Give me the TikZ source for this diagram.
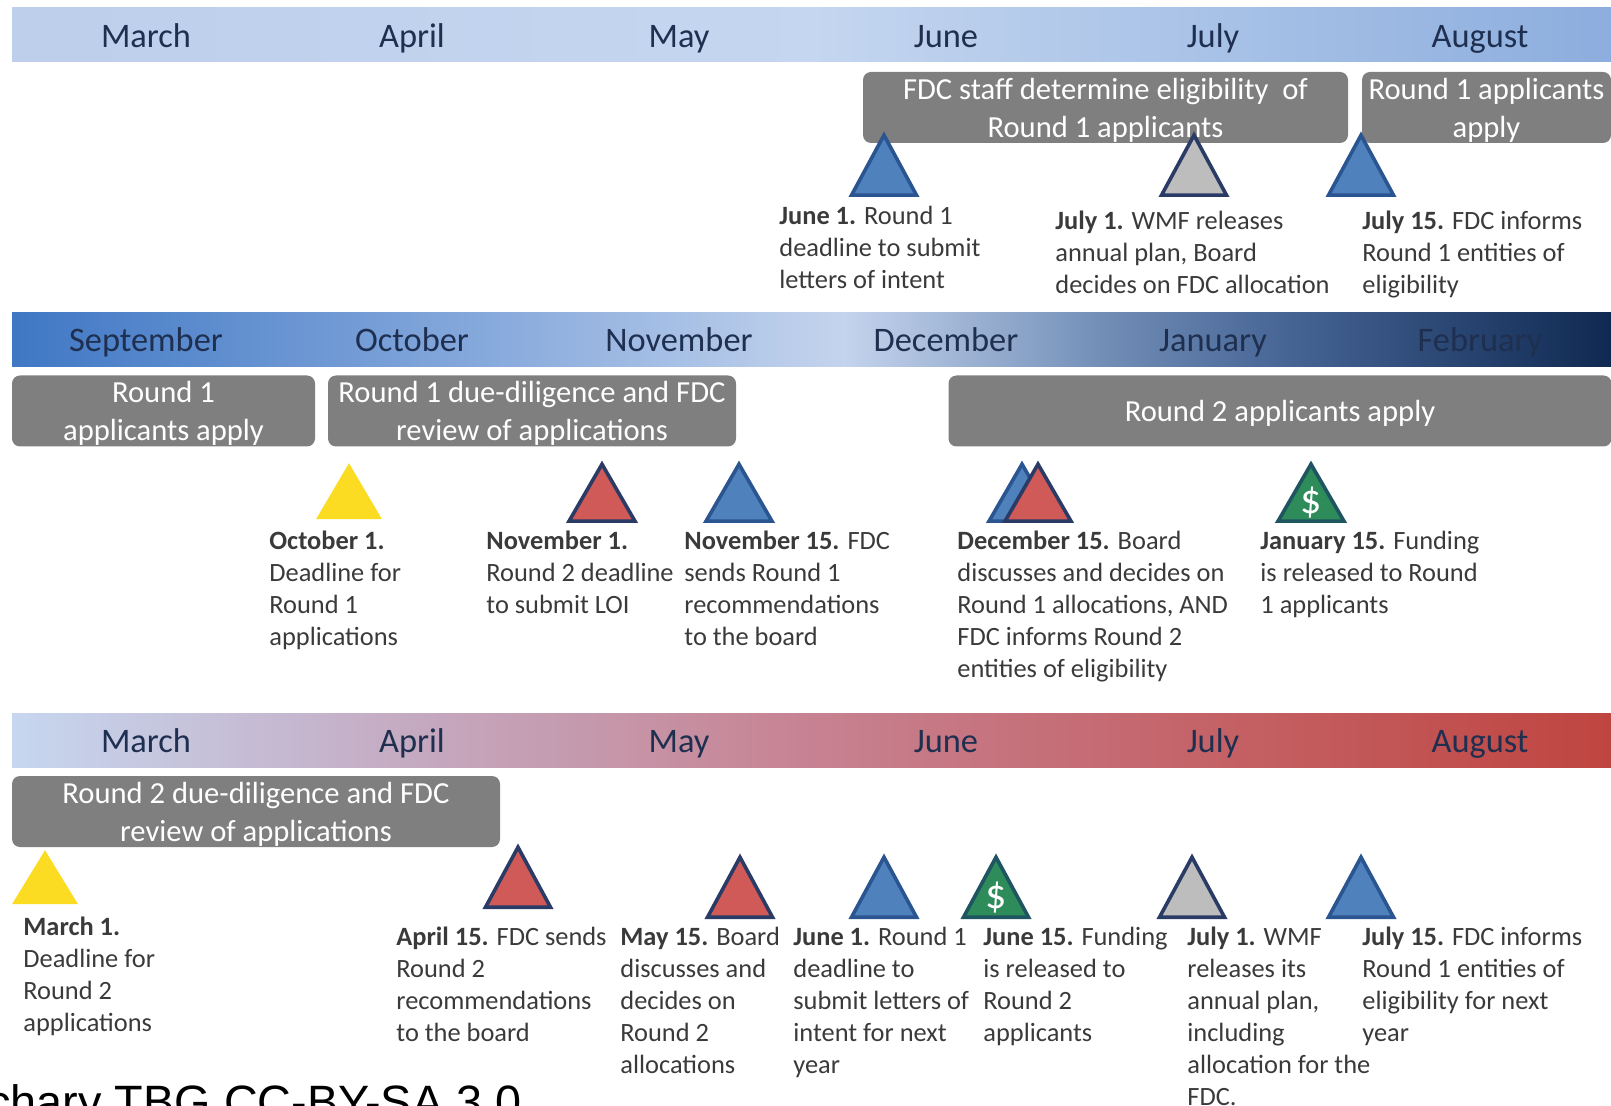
\documentclass[tikz,border=0pt]{standalone}
\usepackage{fontspec}
\setmainfont{Carlito}
\newfontfamily\creditfont{Liberation Sans}
\usetikzlibrary{shapes.geometric}
\definecolor{boxgray}{HTML}{7F7F7F}
\definecolor{monthink}{HTML}{1F2F50}
\definecolor{bodyink}{HTML}{3A3A3A}
\definecolor{triblue}{HTML}{4F81BD}
\definecolor{trired}{HTML}{CF5A58}
\definecolor{trigray}{HTML}{BDBDBD}
\definecolor{trigreen}{HTML}{2E8B5A}
\definecolor{triyellow}{HTML}{FBDC22}
\definecolor{edgeblue}{HTML}{2B5590}
\definecolor{edgenavy}{HTML}{2A3B66}
\definecolor{edgegreen}{HTML}{1F5560}
\pgfdeclarehorizontalshading{bandone}{100bp}{rgb(0bp)=(.74,.81,.92); rgb(25bp)=(.74,.81,.92); rgb(50bp)=(.77,.84,.94); rgb(75bp)=(.55,.68,.87); rgb(100bp)=(.55,.68,.87)}
\pgfdeclarehorizontalshading{bandtwo}{100bp}{rgb(0bp)=(.25,.47,.77); rgb(25bp)=(.25,.47,.77); rgb(41bp)=(.55,.68,.87); rgb(51bp)=(.77,.83,.93); rgb(59bp)=(.45,.56,.72); rgb(65bp)=(.27,.39,.58); rgb(75bp)=(.06,.16,.32); rgb(100bp)=(.06,.16,.32)}
\pgfdeclarehorizontalshading{bandthree}{100bp}{rgb(0bp)=(.78,.84,.94); rgb(25bp)=(.78,.84,.94); rgb(38bp)=(.77,.66,.75); rgb(50bp)=(.78,.51,.57); rgb(62bp)=(.77,.39,.41); rgb(75bp)=(.75,.27,.25); rgb(100bp)=(.75,.27,.25)}
\newcommand{\dollarmark}{\raisebox{-5.5pt}[0pt][0pt]{\makebox[0pt]{\$}}}
\tikzset{
  band/.style= {minimum width=799.5pt, minimum height=27pt, inner sep=0},
  month/.style= {anchor=base, text=monthink, inner sep=0, font=\fontsize{17.2}{20}\selectfont},
  box/.style= {fill=boxgray, rounded corners=4pt, minimum height=35.5pt, inner sep=0,
    text=white, align=center, font=\fontsize{15.3}{19}\selectfont,
    execute at begin node={\leavevmode\rule{0pt}{#1}}},
  box/.default=32pt,
  tri/.style= {isosceles triangle, isosceles triangle stretches, shape border rotate=90,
    inner sep=0, anchor=lower side, line width=1.8pt, line join=miter},
  bluetri/.style= {tri, fill=triblue, draw=edgeblue},
  redtri/.style= {tri, fill=trired, draw=edgenavy},
  graytri/.style= {tri, fill=trigray, draw=edgenavy},
  greentri/.style= {tri, fill=trigreen, draw=edgegreen, text=white, font=\fontsize{21}{21}\selectfont},
  yellowtri/.style= {tri, fill=triyellow},
  big/.style= {minimum width=32.5pt, minimum height=30pt},
  low/.style= {minimum width=33pt, minimum height=28.5pt},
  note/.style= {anchor=north west, inner sep=0, align=left, text=bodyink,
    font=\fontsize{13.2}{16}\selectfont},
}

\begin{document}
\begin{tikzpicture}[x=0.5pt, y=-0.5pt]
  \useasboundingbox (0,0) rectangle (1611,1106);

  % first half year
  \node [band, shading=bandone] (bandone) at (811.5,35) {};
  \node [month] (marone) at (146,48) {March};
  \node [month] (aprone) at (412,48) {April};
  \node [month] (mayone) at (679,48) {May};
  \node [month] (junone) at (946,48) {June};
  \node [month] (julone) at (1213,48) {July};
  \node [month] (augone) at (1480,48) {August};
  \node [box, minimum width=242.5pt] (staff) at (1105.5,107.5) {FDC staff determine eligibility~ of\\Round 1 applicants};
  \node [box, minimum width=124.5pt] (applyone) at (1486.5,107.5) {Round 1 applicants\\apply};
  \node [bluetri, big] (trijune) at (884,197) {};
  \node [graytri, big] (triplan) at (1194,197) {};
  \node [bluetri, big] (triinform) at (1361,197) {};
  \node [note] (noteone) at (779,205.5) {\textbf{June 1.} Round 1\\deadline to submit\\letters of intent};
  \node [note] (notetwo) at (1055,210.5) {\textbf{July 1.} WMF releases\\annual plan, Board\\decides on FDC allocation};
  \node [note] (notethree) at (1362,210.5) {\textbf{July 15.} FDC informs\\Round 1 entities of\\eligibility};

  % second half year
  \node [band, shading=bandtwo] (bandtwo) at (811.5,339.5) {};
  \node [month] (sep) at (146,352) {September};
  \node [month] (oct) at (412,352) {October};
  \node [month] (nov) at (679,352) {November};
  \node [month] (dec) at (946,352) {December};
  \node [month] (jan) at (1213,352) {January};
  \node [month] (feb) at (1480,352) {February};
  \node [box, minimum width=151.5pt] (applyround) at (163.5,411) {Round 1\\applicants apply};
  \node [box, minimum width=204pt] (diligone) at (532,411) {Round 1 due-diligence and FDC\\review of applications};
  \node [box=13pt, minimum width=331.5pt] (applytwo) at (1280,411) {Round 2 applicants apply};
  \node [yellowtri, minimum width=33pt, minimum height=28pt] (trioct) at (349,521) {};
  \node [redtri, low] (trinov) at (602,523) {};
  \node [bluetri, low] (trirec) at (739,523) {};
  \node [bluetri, low] (tridecb) at (1022,523) {};
  \node [redtri, low] (tridecr) at (1038,523) {};
  \node [greentri, low] (trijan) at (1311,523) {\dollarmark};
  \node [note] (noteoct) at (269,530.5) {\textbf{October 1.}\\Deadline for\\Round 1\\applications};
  \node [note] (notenov) at (486,530.5) {\textbf{November 1.}\\Round 2 deadline\\to submit LOI};
  \node [note] (noterec) at (684,530.5) {\textbf{November 15.} FDC\\sends Round 1\\recommendations\\to the board};
  \node [note] (notedec) at (957,530.5) {\textbf{December 15.} Board\\discusses and decides on\\Round 1 allocations, AND\\FDC informs Round 2\\entities of eligibility};
  \node [note] (notejan) at (1260,530.5) {\textbf{January 15.} Funding\\is released to Round\\1 applicants};

  % third half year
  \node [band, shading=bandthree] (bandthree) at (811.5,740) {};
  \node [month] (marthree) at (146,752) {March};
  \node [month] (aprthree) at (412,752) {April};
  \node [month] (maythree) at (679,752) {May};
  \node [month] (junthree) at (946,752) {June};
  \node [month] (julthree) at (1213,752) {July};
  \node [month] (augthree) at (1480,752) {August};
  \node [box, minimum width=244pt] (diligtwo) at (256,811.5) {Round 2 due-diligence and FDC\\review of applications};
  \node [yellowtri, minimum width=33pt, minimum height=27pt] (trimar) at (45,906) {};
  \node [redtri, big] (triapr) at (518,909) {};
  \node [redtri, big] (trimay) at (740,919) {};
  \node [bluetri, big] (trilet) at (884,919) {};
  \node [greentri, big] (trifund) at (996,919) {\dollarmark};
  \node [graytri, big] (trirel) at (1192,919) {};
  \node [bluetri, big] (trinext) at (1361,919) {};
  \node [note] (notemar) at (23,916.5) {\textbf{March 1.}\\Deadline for\\Round 2\\applications};
  \node [note] (noteapr) at (396,926.5) {\textbf{April 15.} FDC sends\\Round 2\\recommendations\\to the board};
  \node [note] (notemay) at (620,926.5) {\textbf{May 15.} Board\\discusses and\\decides on\\Round 2\\allocations};
  \node [note] (notelet) at (793,926.5) {\textbf{June 1.} Round 1\\deadline to\\submit letters of\\intent for next\\year};
  \node [note] (notefund) at (983,926.5) {\textbf{June 15.} Funding\\is released to\\Round 2\\applicants};
  \node [note] (noterel) at (1187,926.5) {\textbf{July 1.} WMF\\releases its\\annual plan,\\including\\allocation for the\\FDC.};
  \node [note] (notenext) at (1362,926.5) {\textbf{July 15.} FDC informs\\Round 1 entities of\\eligibility for next\\year};

  \node [anchor=base west, inner sep=0, text=black, font=\creditfont\fontsize{23.4}{24}\selectfont] (credit) at (-13,1118) {chary TBG CC-BY-SA 3.0};
\end{tikzpicture}
\end{document}
